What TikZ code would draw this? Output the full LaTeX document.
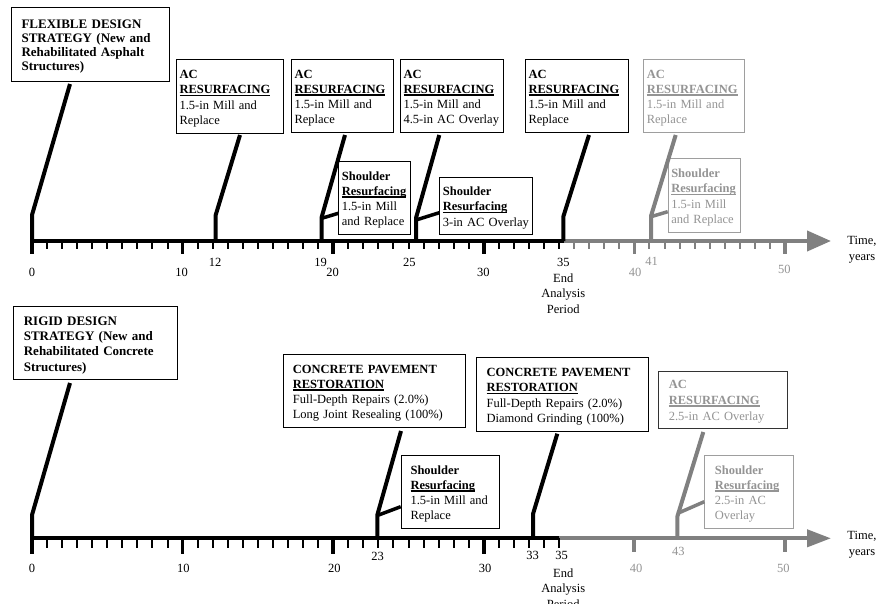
\documentclass[tikz,border=0pt]{standalone}
\usepackage{fontspec}
\setmainfont{Liberation Serif}
\usetikzlibrary{arrows.meta}
\definecolor{gl}{gray}{0.5}
\definecolor{gt}{gray}{0.58}
\definecolor{gb}{gray}{0.62}
\definecolor{db}{gray}{0.2}
\newcommand\ulx[1]{\leavevmode\setbox0\hbox{#1}\rlap{\rule[-2.6pt]{\wd0}{1.8pt}}\box0}
\newcommand\bxfont{\fontsize{12.5}{15.2}\selectfont}
\begin{document}
\begin{tikzpicture}[x=1pt,y=-1pt,
  bx/.style={draw, line width=1.1pt, anchor=north west, align=left, inner ysep=0pt, font=\bxfont,
    execute at begin node={\rule{0pt}{12.5pt}}},
  ev/.style={line width=4pt, line join=miter},
  br/.style={line width=3.5pt},
  lab/.style={font=\bxfont, inner sep=0pt},
  axl/.style={line width=4pt},
  mint/.style={line width=2pt},
  majt/.style={line width=3.5pt}]
\useasboundingbox (0,0) rectangle (880,604);
\fill[white] (0,0) rectangle (880,604);

% ---------------- TOP (flexible) ----------------
\node[bx, font=\fontsize{13}{14.1}\selectfont\bfseries, inner xsep=10pt, minimum width=158.3pt, minimum height=73.4pt, text width=138.3pt] (flex) at (11,7.3)
  {FLEXIBLE DESIGN\\STRATEGY (New and\\Rehabilitated Asphalt\\Structures)};
\node[bx, inner xsep=3pt, minimum width=107.3pt, minimum height=73.4pt, text width=101.3pt] (ac1) at (176,59.3)
  {\textbf{AC}\\\ulx{\textbf{RESURFACING}}\\\mbox{1.5-in Mill and}\\Replace};
\node[bx, inner xsep=3pt, minimum width=101.7pt, minimum height=73.3pt, text width=95.7pt] (ac2) at (291,59)
  {\textbf{AC}\\\ulx{\textbf{RESURFACING}}\\\mbox{1.5-in Mill and}\\Replace};
\node[bx, inner xsep=3pt, minimum width=102.7pt, minimum height=73.3pt, text width=96.7pt] (ac3) at (400,59)
  {\textbf{AC}\\\ulx{\textbf{RESURFACING}}\\\mbox{1.5-in Mill and}\\\mbox{4.5-in AC Overlay}};
\node[bx, inner xsep=3pt, minimum width=102.7pt, minimum height=73.3pt, text width=96.7pt] (ac4) at (525,59)
  {\textbf{AC}\\\ulx{\textbf{RESURFACING}}\\\mbox{1.5-in Mill and}\\Replace};
\node[bx, draw=gb, text=gt, inner xsep=3pt, minimum width=101pt, minimum height=73.3pt, text width=95pt] (ac5) at (643.3,59)
  {\textbf{AC}\\\ulx{\textbf{RESURFACING}}\\\mbox{1.5-in Mill and}\\Replace};
\node[bx, inner xsep=3pt, minimum width=71.7pt, minimum height=73pt, text width=65.7pt] (sh1) at (338.3,161)
  {\textbf{Shoulder}\\\ulx{\textbf{Resurfacing}}\\\mbox{1.5-in Mill}\\\mbox{and Replace}};
\node[bx, inner xsep=3pt, minimum width=93pt, minimum height=57.3pt, text width=87pt] (sh2) at (439.3,176.7)
  {\textbf{Shoulder}\\\ulx{\textbf{Resurfacing}}\\\mbox{3-in AC Overlay}};
\node[bx, draw=gb, text=gt, inner xsep=3pt, minimum width=72.3pt, minimum height=73.4pt, text width=66.3pt] (sh3) at (667.7,158.3)
  {\textbf{Shoulder}\\\ulx{\textbf{Resurfacing}}\\\mbox{1.5-in Mill}\\\mbox{and Replace}};

% axis
\coordinate (ta0) at (32,241);
\coordinate (ta35) at (564,241);
\coordinate (taend) at (831,241);
\draw[axl] (ta0) -- (ta35);
\draw[axl, gl, -{Triangle[length=24pt,width=20pt]}] (ta35) -- (taend);
\foreach \i in {0,...,50}{
  \pgfmathsetmacro\xx{32+15.06*\i}
  \pgfmathtruncatemacro\m{mod(\i,10)}
  \ifnum\i>35 \def\cc{gl}\else\def\cc{black}\fi
  \ifnum\m=0
    \draw[majt, \cc] (\xx,241) -- (\xx,254);
  \else
    \draw[mint, \cc] (\xx,241) -- (\xx,249);
  \fi
}

% events top
\coordinate (tf0) at (32,241);   \coordinate (tfk) at (32,215);   \coordinate (tfu) at (70,84);
\draw[ev] (tf0) -- (tfk) -- (tfu);
\coordinate (t12) at (215.7,241); \coordinate (k12) at (215.7,215); \coordinate (u12) at (240,135);
\draw[ev] (t12) -- (k12) -- (u12);
\coordinate (t19) at (321.7,241); \coordinate (k19) at (321.7,217); \coordinate (u19) at (345,135);
\draw[ev] (t19) -- (k19) -- (u19);
\coordinate (b19) at (sh1.west |- 0,213.3);
\draw[br] (321.7,218.3) -- (b19);
\coordinate (t25) at (416,241); \coordinate (k25) at (416,218); \coordinate (u25) at (439.3,135);
\draw[ev] (t25) -- (k25) -- (u25);
\coordinate (b25) at (sh2.west |- 0,212.7);
\draw[br] (416,220) -- (b25);
\coordinate (t35) at (563.3,241); \coordinate (k35) at (563.3,216.7); \coordinate (u35) at (589,135);
\draw[ev] (t35) -- (k35) -- (u35);
\coordinate (t41) at (651,241); \coordinate (k41) at (651,216); \coordinate (u41) at (675.7,135);
\draw[ev, gl] (t41) -- (k41) -- (u41);
\coordinate (b41) at (sh3.west |- 0,211.7);
\draw[br, gl] (651,216.7) -- (b41);

% labels top
\node[lab] (l0) at (32,272) {0};
\node[lab] (l10) at (181.7,272) {10};
\node[lab] (l12) at (215,262.5) {12};
\node[lab] (l19) at (320.7,262.5) {19};
\node[lab] (l20) at (332.7,272) {20};
\node[lab] (l25) at (409.3,262.5) {25};
\node[lab] (l30) at (483.3,272) {30};
\node[lab] (l35) at (563.3,262.5) {35};
\node[lab, align=center, anchor=north, font=\fontsize{12.5}{15.5}\selectfont] (lend) at (563.3,273.5) {End\\Analysis\\Period};
\node[lab, text=gt] (l40) at (635,272) {40};
\node[lab, text=gt] (l41) at (651.7,261) {41};
\node[lab, text=gt] (l50) at (784.3,269) {50};
\node[lab, align=center, anchor=north, font=\fontsize{12.5}{16}\selectfont] (ltime) at (862,236) {Time,\\years};

% ---------------- BOTTOM (rigid) ----------------
\node[bx, font=\fontsize{13}{15.3}\selectfont\bfseries, inner xsep=10pt, minimum width=163.4pt, minimum height=73.3pt, text width=143.4pt] (rigid) at (13.3,306)
  {RIGID DESIGN\\STRATEGY (New and\\Rehabilitated Concrete\\Structures)};
\node[bx, inner xsep=9pt, minimum width=181.7pt, minimum height=73.3pt, text width=163.7pt] (cpr1) at (283.3,354)
  {\textbf{CONCRETE PAVEMENT}\\\ulx{\textbf{RESTORATION}}\\\mbox{Full-Depth Repairs (2.0\%)}\\\mbox{Long Joint Resealing (100\%)}};
\node[bx, inner xsep=10pt, minimum width=171.7pt, minimum height=74pt, text width=151.7pt] (cpr2) at (476,357)
  {\textbf{CONCRETE PAVEMENT}\\\ulx{\textbf{RESTORATION}}\\\mbox{Full-Depth Repairs (2.0\%)}\\\mbox{Diamond Grinding (100\%)}};
\node[bx, draw=db, text=gt, inner xsep=10pt, minimum width=128.4pt, minimum height=57pt, text width=108.4pt, font=\fontsize{12.5}{16}\selectfont] (acg) at (658.3,370.7)
  {\textbf{AC}\\\ulx{\textbf{RESURFACING}}\\\mbox{2.5-in AC Overlay}};
\node[bx, inner xsep=9.3pt, minimum width=98.6pt, minimum height=72.7pt, text width=80pt] (sh4) at (400.7,455)
  {\textbf{Shoulder}\\\ulx{\textbf{Resurfacing}}\\\mbox{1.5-in Mill and}\\Replace};
\node[bx, draw=gb, text=gt, inner xsep=10pt, minimum width=89pt, minimum height=72.7pt, text width=69pt] (sh5) at (704.3,455)
  {\textbf{Shoulder}\\\ulx{\textbf{Resurfacing}}\\\mbox{2.5-in AC}\\Overlay};

% axis
\coordinate (ba0) at (32,538.3);
\coordinate (ba35) at (559.3,538.3);
\coordinate (baend) at (831,538.3);
\draw[axl] (ba0) -- (ba35);
\draw[axl, gl, -{Triangle[length=24pt,width=17pt]}] (ba35) -- (baend);
\foreach \i in {0,...,35}{
  \pgfmathsetmacro\xx{32+15.06*\i}
  \pgfmathtruncatemacro\m{mod(\i,10)}
  \ifnum\m=0
    \draw[majt] (\xx,538.3) -- (\xx,553.5);
  \else
    \draw[mint] (\xx,538.3) -- (\xx,547.5);
  \fi
}
\foreach \xx in {634.4,785}{
  \draw[line width=4pt, gl] (\xx,538.3) -- (\xx,552);
}

% events bottom
\coordinate (bf0) at (32,538.3); \coordinate (bfk) at (32,515); \coordinate (bfu) at (70,383);
\draw[ev] (bf0) -- (bfk) -- (bfu);
\coordinate (t23) at (377.3,538.3); \coordinate (k23) at (377.3,515); \coordinate (u23) at (401,431);
\draw[ev] (t23) -- (k23) -- (u23);
\coordinate (b23) at (sh4.west |- 0,506.7);
\draw[br] (377.3,515.5) -- (b23);
\coordinate (t33) at (533,538.3); \coordinate (k33) at (533,514); \coordinate (u33) at (557.3,433.7);
\draw[ev] (t33) -- (k33) -- (u33);
\coordinate (t43) at (677.3,538.3); \coordinate (k43) at (677.3,516.7); \coordinate (u43) at (703.3,432);
\draw[ev, gl] (t43) -- (k43) -- (u43);
\coordinate (b43) at (sh5.west |- 0,501.7);
\draw[br, gl] (677.3,513.5) -- (b43);

% labels bottom
\node[lab] (m0) at (32,568) {0};
\node[lab] (m10) at (183.3,568) {10};
\node[lab] (m20) at (334.3,568) {20};
\node[lab] (m23) at (377.7,556) {23};
\node[lab] (m30) at (485,568) {30};
\node[lab] (m33) at (532.7,555) {33};
\node[lab] (m35) at (561.7,555) {35};
\node[lab, align=center, anchor=north, font=\fontsize{12.5}{15.5}\selectfont] (mend) at (563.3,568.5) {End\\Analysis\\Period};
\node[lab, text=gt] (m40) at (636,568) {40};
\node[lab, text=gt] (m43) at (678.3,551.7) {43};
\node[lab, text=gt] (m50) at (783.3,568) {50};
\node[lab, align=center, anchor=north, font=\fontsize{12.5}{16}\selectfont] (mtime) at (862,531) {Time,\\years};
\end{tikzpicture}
\end{document}
